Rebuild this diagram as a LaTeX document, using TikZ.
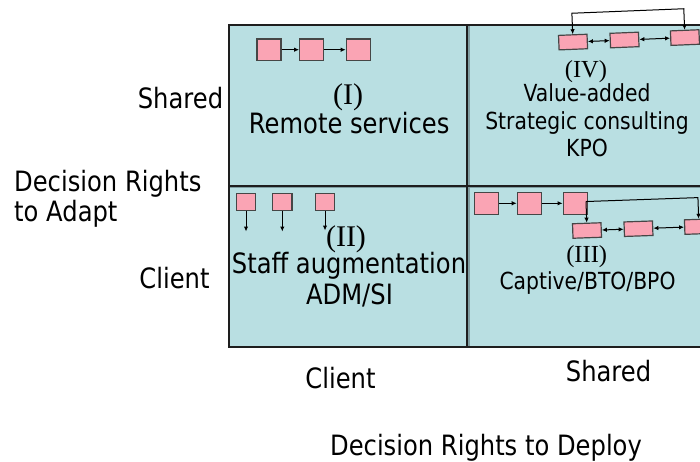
\documentclass[tikz,border=0pt]{standalone}
\usepackage{fontspec}
\setmainfont[FakeStretch=0.865]{DejaVu Sans}
\newfontfamily\numfont{Liberation Serif}
\usetikzlibrary{arrows.meta}
\definecolor{cellfill}{RGB}{185,223,226}
\definecolor{cellshade}{RGB}{128,158,162}
\definecolor{boxpink}{RGB}{250,164,180}
\definecolor{boxedge}{RGB}{70,70,70}
\definecolor{gridline}{RGB}{30,30,30}
\tikzset{
  lbig/.style={font=\fontsize{28}{34}\selectfont, anchor=base, inner sep=0pt},
  lsmall/.style={font=\fontsize{23.5}{28}\selectfont, anchor=base, inner sep=0pt},
  numbig/.style={font=\numfont\fontsize{30}{34}\selectfont, anchor=base, inner sep=0pt},
  numsmall/.style={font=\numfont\fontsize{24.5}{28}\selectfont, anchor=base, inner sep=0pt},
  sq/.style={draw=boxedge, fill=boxpink, line width=1.2pt, inner sep=0pt,
             minimum width=#1},
  sq/.default=24pt,
  flow/.style={line width=1pt, -{Latex[length=5pt,width=4.5pt]}},
  twoway/.style={line width=1pt, {Latex[length=5pt,width=4.5pt]}-{Latex[length=5pt,width=4.5pt]}},
  gridrule/.style={gridline, line width=2pt},
  gridshade/.style={cellshade, line width=1.6pt},
}
\begin{document}
\begin{tikzpicture}[x=1pt,y=-1pt]
\useasboundingbox (0,0) rectangle (700,461);
\clip (0,0) rectangle (700,461);
\fill[white] (0,0) rectangle (700,461);

% the four cells, with a soft shade beside the inner rules
\fill[cellfill] (228.5,25) rectangle (730,346.5);
\draw[gridshade] (228.5,187.2) -- (730,187.2);
\draw[gridshade] (469,25) -- (469,346.5);
\draw[gridrule] (228.5,25) rectangle (730,346.5);
\draw[gridrule] (228.5,185.5) -- (730,185.5);
\draw[gridrule] (467.3,25) -- (467.3,346.5);

% axis labels
\node[lbig] (yshared) at (180.5,108) {Shared};
\node[lbig] (yclient) at (174.5,288) {Client};
\node[lbig, anchor=base west] (yaxis1) at (14,191) {Decision Rights};
\node[lbig, anchor=base west] (yaxis2) at (14,221.7) {to Adapt};
\node[lbig] (xclient) at (340.5,388) {Client};
\node[lbig] (xshared) at (608.5,381.7) {Shared};
\node[lbig] (xaxis) at (486,455) {Decision Rights to Deploy};

% cell I: remote services
\node[numbig] (n1) at (348,104) {(I)};
\node[lbig] (t1) at (349.2,133.3) {Remote services};
\node[sq, minimum height=21.3pt] (a1) at (269,49.7) {};
\node[sq, minimum height=21.3pt] (a2) at (311.7,49.7) {};
\node[sq, minimum height=21.3pt] (a3) at (358.3,49.7) {};
\draw[flow] (a1.east) -- (a2.west);
\draw[flow] (a2.east) -- (a3.west);

% cell II: staff augmentation
\node[numbig] (n2) at (346,246) {(II)};
\node[lbig] (t2a) at (349,273.3) {Staff augmentation};
\node[lbig] (t2b) at (349.5,304) {ADM/SI};
\node[sq=19.5pt, minimum height=17pt] (c1) at (246,201.7) {};
\node[sq=19.5pt, minimum height=17pt] (c2) at (282.3,201.7) {};
\node[sq=19.5pt, minimum height=17pt] (c3) at (325,201.7) {};
\coordinate (d1) at (246,231.5);
\coordinate (d2) at (282.3,231.5);
\coordinate (d3) at (325,230.5);
\draw[flow] (c1.south) -- (d1);
\draw[flow] (c2.south) -- (d2);
\draw[flow] (c3.south) -- (d3);

% cell IV: value-added
\node[numsmall] (n4) at (586,77.3) {(IV)};
\node[lsmall] (t4a) at (587,101.7) {Value-added};
\node[lsmall] (t4b) at (587,129.3) {Strategic consulting};
\node[lsmall] (t4c) at (587,156.7) {KPO};
\begin{scope}[rotate around={2.3:(624.5,40)}, transform shape]
  \node[sq=28.5pt, minimum height=14.5pt] (e1) at (573,40) {};
  \node[sq=28.5pt, minimum height=14.5pt] (e2) at (624.5,40) {};
  \node[sq=28.5pt, minimum height=14.5pt] (e3) at (685,40) {};
  \draw[twoway] (e1.east) -- (e2.west);
  \draw[twoway] (e2.east) -- (e3.west);
  \draw[twoway] (e1.north) -- ++(0,-21) -| (e3.north);
\end{scope}

% cell III: captive
\node[numsmall] (n3) at (586.7,262.7) {(III)};
\node[lsmall] (t3) at (587.5,289.3) {Captive/BTO/BPO};
\node[sq, minimum height=22pt] (f1) at (486.3,203.3) {};
\node[sq, minimum height=22pt] (f2) at (529.3,203.3) {};
\node[sq, minimum height=22pt] (f3) at (575.2,203.3) {};
\draw[flow] (f1.east) -- (f2.west);
\draw[flow] (f2.east) -- (f3.west);
\begin{scope}[rotate around={2:(587,230.5)}, transform shape]
  \node[sq=28.5pt, minimum height=14.5pt] (g1) at (587,230.5) {};
  \node[sq=28.5pt, minimum height=14.5pt] (g2) at (638.5,230.5) {};
  \node[sq=28.5pt, minimum height=14.5pt] (g3) at (699,230.5) {};
  \coordinate (fork) at (587,201.5);
  \draw[flow] (fork) -- (g1.north);
  \draw[flow] (fork) -| (g3.north);
  \draw[twoway] (g1.east) -- (g2.west);
  \draw[twoway] (g2.east) -- (g3.west);
\end{scope}
\end{tikzpicture}
\end{document}
